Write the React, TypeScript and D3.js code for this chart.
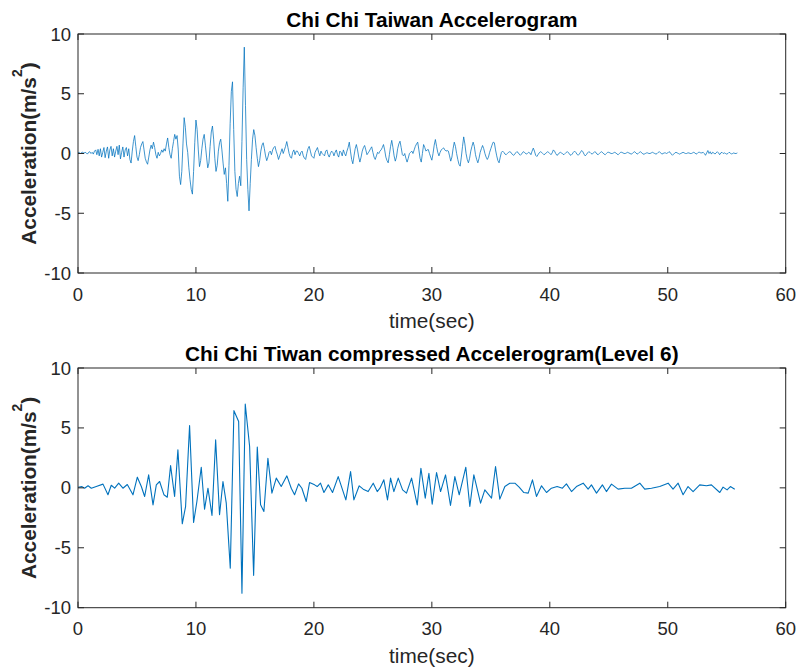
import React from "react";
import * as d3 from "d3";

// ---------- DATA ----------
const xTicks = [0, 10, 20, 30, 40, 50, 60];
const yTicks = [-10, -5, 0, 5, 10];
const titles = ["Chi Chi Taiwan Accelerogram", "Chi Chi Tiwan compressed Accelerogram(Level 6)"];
const xLabel = "time(sec)";

// Original accelerogram, sampled every 0.1 s (one row per second)
const originalDt = 0.1;
const originalAccel = [
  0.05, 0.1, 0.0, 0.08, 0.12, 0.02, 0.1, 0.05, -0.05, 0.1,
  0.15, 0.0, 0.1, -0.05, 0.2, 0.3, -0.1, 0.35, -0.2, 0.4,
  -0.3, 0.1, 0.5, -0.35, 0.2, 0.55, -0.4, 0.3, 0.6, -0.2,
  0.4, -0.3, 0.2, 0.6, -0.1, 0.7, -0.45, 0.1, 0.55, -0.3,
  0.3, 0.5, -0.2, 0.4, -0.5, -0.8, 0.2, 1.0, 1.5, 0.6,
  -0.3, -0.6, -0.1, 0.5, 0.8, 1.0, 0.3, -0.4, -0.7, -0.9,
  -0.3, 0.3, 0.7, 0.4, 0.95, 0.5, -0.1, -0.4, 0.1, -0.2,
  0.0, 0.3, 0.1, 0.4, 0.2, 0.8, 1.3, 0.5, -0.1, -0.4,
  0.4, 1.0, 1.6, 1.2, 1.5, 0.3, -1.9, -2.6, -1.5, 0.8,
  3.0, 2.2, 0.8, 0.1, -1.2, -2.2, -3.0, -3.4, -1.5, 0.9,
  2.8, 2.0, 0.3, -1.1, -0.6, 0.4, 1.2, 1.6, 0.7, -0.3,
  -1.2, -0.8, 0.6, 1.8, 2.3, 1.2, -0.4, -1.5, -1.0, 0.2,
  0.9, 1.2, 0.3, -0.8, -1.75, -1.2, -2.5, -4.0, -1.0, 2.5,
  5.2, 6.0, 2.0, -1.5, -3.0, -3.6, -2.5, -1.9, -2.7, 1.0,
  5.5, 8.9, 4.0, -0.5, -3.0, -4.8, -2.5, -0.5, 1.2, 2.0,
  1.5, 0.5, -0.4, -1.1, -0.6, 0.2, 0.7, 0.9, 0.4, -0.2,
  -0.6, -0.3, 0.1, 0.2, -0.1, 0.3, 0.5, 0.6, 0.2, -0.1,
  -0.5, -0.2, 0.1, 0.4, 0.0, 0.3, 0.6, 1.0, 0.5, 0.0,
  -0.3, -0.4, 0.1, 0.3, -0.1, 0.2, 0.2, 0.0, -0.2, 0.1,
  0.2, -0.2, -0.4, -0.5, 0.0, 0.4, 0.6, 0.2, -0.2, -0.3,
  -0.4, 0.1, 0.3, 0.5, 0.1, -0.2, 0.2, 0.0, -0.1, -0.2,
  0.2, 0.3, -0.1, -0.3, 0.0, 0.2, 0.1, -0.2, 0.1, 0.3,
  -0.1, -0.3, 0.2, 0.1, -0.2, 0.3, 0.0, -0.2, 0.2, 0.5,
  0.95, 0.2, -0.5, -0.86, -0.2, 0.4, 0.75, 0.3, -0.3, -0.72,
  -0.3, 0.2, 0.5, 0.67, 0.3, -0.1, 0.05, 0.2, 0.4, 0.56,
  0.1, -0.3, -0.5, -0.2, 0.1, 0.0, 0.2, 0.3, 0.5, 0.75,
  0.3, -0.3, -0.6, -0.78, -0.1, 0.6, 1.1, 0.5, -0.2, -0.64,
  -0.3, 0.4, 0.8, 1.03, 0.5, -0.1, -0.2, 0.0, -0.4, -0.72,
  -0.4, 0.0, 0.1, 0.2, 0.0, 0.3, 0.6, 0.8, 0.95, 0.3,
  -0.4, -0.72, 0.0, 0.75, 0.5, 0.2, 0.3, 0.33, 0.0, -0.3,
  -0.56, 0.0, 0.7, 1.17, 0.6, 0.1, -0.2, 0.1, 0.3, 0.4,
  0.47, 0.3, 0.2, 0.25, 0.2, -0.2, -0.64, -0.3, 0.4, 0.95,
  0.6, 0.0, -0.5, -0.9, -1.06, -0.3, 0.6, 1.39, 0.8, 0.0,
  -0.5, -0.78, -0.4, 0.2, 0.6, 0.95, 0.6, -0.1, -0.5, -0.78,
  -0.4, 0.1, 0.4, 0.67, 0.4, 0.0, -0.3, -0.5, -0.3, 0.1,
  0.4, 0.7, 0.95, 0.9, 0.3, -0.2, -0.6, -0.78, -0.3, 0.1,
  0.2, 0.1, -0.05, -0.1, 0.0, 0.1, 0.15, 0.1, -0.05, -0.15,
  -0.1, 0.05, 0.15, 0.1, -0.05, -0.15, -0.05, 0.1, 0.15, 0.05,
  -0.05, 0.0, 0.1, 0.05, -0.1, 0.2, 0.45, 0.2, -0.15, -0.25,
  -0.1, 0.05, 0.15, 0.1, 0.0, -0.1, -0.05, 0.05, 0.15, 0.1,
  0.0, -0.1, 0.05, 0.3, 0.2, 0.0, -0.15, -0.1, 0.05, 0.1,
  0.05, -0.05, -0.1, 0.0, 0.1, 0.15, 0.05, -0.1, -0.15, -0.05,
  0.1, 0.2, 0.1, -0.05, -0.15, -0.05, 0.1, 0.25, 0.15, -0.05,
  -0.2, -0.1, 0.05, 0.15, 0.1, 0.0, -0.05, 0.05, 0.15, 0.1,
  -0.05, -0.1, 0.0, 0.1, 0.15, 0.05, -0.05, -0.1, 0.0, 0.1,
  0.1, 0.05, 0.0, 0.0, 0.05, 0.1, 0.05, -0.05, -0.1, 0.0,
  0.1, 0.1, 0.05, 0.0, 0.0, 0.05, 0.1, 0.05, 0.0, -0.05,
  0.0, 0.1, 0.15, 0.05, -0.05, 0.0, 0.1, 0.15, 0.05, -0.05,
  -0.05, 0.0, 0.05, 0.05, 0.0, 0.0, 0.05, 0.1, 0.05, 0.0,
  -0.05, 0.0, 0.1, 0.15, 0.05, -0.05, 0.0, 0.05, 0.05, 0.0,
  0.05, 0.15, 0.1, -0.05, -0.15, -0.05, 0.05, 0.1, 0.05, 0.0,
  -0.05, 0.0, 0.05, 0.1, 0.05, 0.0, 0.0, 0.05, 0.05, 0.0,
  0.0, 0.05, 0.1, 0.05, -0.05, 0.0, 0.1, 0.1, 0.05, 0.05,
  0.1, 0.0, -0.15, 0.05, 0.25, 0.0, 0.15, -0.05, 0.1, 0.05,
  -0.05, 0.05, 0.15, 0.05, -0.1, 0.05, 0.1, 0.0, 0.05, 0.0,
  -0.05, 0.0, 0.1, 0.05, -0.05, 0.0, 0.05, 0.0, 0.0, 0.05,
];

// Compressed (level 6) reconstruction: sample times and accelerations
const compressedTime = [
  0, 0.34, 0.56, 0.85, 1.13, 1.55, 2.12, 2.54, 2.82, 3.11,
  3.45, 3.81, 4.18, 4.66, 5.03, 5.37, 5.65, 5.99, 6.36, 6.64,
  6.92, 7.29, 7.57, 7.85, 8.19, 8.47, 8.84, 9.12, 9.46, 9.8,
  10.08, 10.45, 10.73, 11.02, 11.36, 11.67, 12.0, 12.29, 12.57, 12.91,
  13.22, 13.62, 13.9, 14.18, 14.55, 14.89, 15.2, 15.48, 15.76, 16.1,
  16.44, 16.81, 17.23, 17.71, 18.08, 18.36, 18.7, 18.98, 19.35, 19.63,
  20.06, 20.28, 20.56, 20.85, 21.22, 21.58, 22.06, 22.71, 23.11, 23.39,
  23.84, 24.18, 24.6, 25.03, 25.37, 25.6, 25.93, 26.24, 26.5, 26.78,
  27.15, 27.52, 27.85, 28.28, 28.76, 29.07, 29.44, 29.75, 30.03, 30.4,
  30.74, 31.16, 31.58, 31.95, 32.32, 32.88, 33.22, 33.56, 34.13, 34.49,
  35.06, 35.4, 35.76, 36.19, 36.61, 37.04, 37.4, 37.8, 38.17, 38.53,
  38.87, 39.3, 39.72, 40.14, 40.62, 41.07, 41.41, 41.84, 42.26, 42.83,
  43.25, 43.53, 43.96, 44.46, 44.8, 45.23, 45.79, 46.36, 46.92, 47.63,
  48.05, 48.62, 49.32, 50.03, 50.45, 50.88, 51.3, 51.72, 52.15, 52.71,
  53.28, 53.7, 54.41, 54.69, 55.03, 55.31, 55.68,
];
const compressedAccel = [
  0.05, 0.1, -0.03, 0.17, -0.03, 0.11, 0.31, -0.58, 0.22, -0.03,
  0.39, -0.03, 0.28, -0.58, 0.89, 0.11, -0.72, 1.08, -1.42, 0.25,
  0.53, -0.58, -0.78, 1.86, -0.72, 3.17, -3.0, -1.56, 5.2, -2.89,
  -1.14, 1.72, -1.78, -0.03, -2.31, 4.0, -2.25, 0.53, -1.28, -6.7,
  6.44, 5.53, -8.8, 7.0, 3.45, -7.3, 3.4, -1.42, -1.97, 2.47,
  -0.44, 0.81, 0.11, 1.0, -0.03, -0.58, 0.33, -0.03, -1.14, 0.44,
  0.25, 0.11, 0.39, -0.39, 0.25, -0.39, 0.94, -1.0, 1.36, -1.0,
  0.17, -0.11, -0.31, 0.39, -0.31, -0.03, 0.67, -1.0, 0.81, -0.31,
  0.81, -0.17, -0.44, 0.81, -1.42, 1.64, -0.86, 1.22, -1.36, 1.28,
  -0.31, 1.08, -1.47, 0.94, -0.58, 1.72, -1.56, 1.08, -1.28, -0.17,
  -0.86, 1.78, -0.94, 0.11, 0.39, 0.39, 0.06, -0.39, -0.44, 0.67,
  -0.72, 0.17, -0.39, -0.03, 0.11, -0.03, 0.33, -0.31, 0.11, 0.39,
  -0.11, 0.25, -0.44, 0.25, -0.31, 0.31, -0.11, -0.03, -0.03, 0.39,
  -0.11, -0.03, 0.11, 0.39, -0.11, 0.39, -0.58, 0.11, -0.31, 0.25,
  0.17, 0.25, -0.39, 0.06, -0.17, 0.11, -0.11,
];

// ---------- LAYOUT ----------
const W = 800;
const H = 669;
const LEFT = 78;
const RIGHT = 785.7;
const panels = [
  { top: 34, bottom: 273, lw: 0.75 },
  { top: 368, bottom: 607.7, lw: 1.1 },
];
const AXIS = "#262626";
const LINE = "#0072BD";
const FONT = "'Liberation Sans', Arial, Helvetica, sans-serif";
const TICK = 6;

type Pt = [number, number];

function Panel({ idx, data }: { idx: number; data: Pt[] }) {
  const p = panels[idx];
  const x = d3.scaleLinear().domain([0, 60]).range([LEFT, RIGHT]);
  const y = d3.scaleLinear().domain([-10, 10]).range([p.bottom, p.top]);
  const line = d3
    .line<Pt>()
    .x((d) => x(d[0]))
    .y((d) => y(d[1]));
  const midY = (p.top + p.bottom) / 2;
  const midX = (LEFT + RIGHT) / 2;
  return (
    <g>
      <path d={line(data) || ""} fill="none" stroke={LINE} strokeWidth={p.lw} strokeLinejoin="round" />
      <rect x={LEFT} y={p.top} width={RIGHT - LEFT} height={p.bottom - p.top} fill="none" stroke={AXIS} strokeWidth={1} />
      {xTicks.map((t) => (
        <g key={"xt" + t}>
          <line x1={x(t)} x2={x(t)} y1={p.bottom} y2={p.bottom - TICK} stroke={AXIS} />
          <line x1={x(t)} x2={x(t)} y1={p.top} y2={p.top + TICK} stroke={AXIS} />
          <text x={x(t)} y={p.bottom + 27.5} textAnchor="middle" fontSize={18.5} fill={AXIS} fontFamily={FONT}>
            {t}
          </text>
        </g>
      ))}
      {yTicks.map((v) => (
        <g key={"yt" + v}>
          <line x1={LEFT} x2={LEFT + TICK} y1={y(v)} y2={y(v)} stroke={AXIS} />
          <line x1={RIGHT} x2={RIGHT - TICK} y1={y(v)} y2={y(v)} stroke={AXIS} />
          <text x={71} y={y(v) + 6.5} textAnchor="end" fontSize={18.5} fill={AXIS} fontFamily={FONT}>
            {v}
          </text>
        </g>
      ))}
      <text x={midX} y={p.top - 7.3} textAnchor="middle" fontSize={20.8} fontWeight="bold" fill="#000" fontFamily={FONT}>
        {titles[idx]}
      </text>
      <text x={midX} y={p.bottom + 55} textAnchor="middle" fontSize={20.8} fill={AXIS} fontFamily={FONT}>
        {xLabel}
      </text>
      <text
        transform={`translate(36,${midY}) rotate(-90)`}
        textAnchor="middle"
        fontSize={20.8}
        fontWeight="bold"
        fill={AXIS}
        fontFamily={FONT}
      >
        Acceleration(m/s
        <tspan dy={-14} fontSize={14}>2</tspan>
        <tspan dy={14}>)</tspan>
      </text>
    </g>
  );
}

export default function App() {
  const original: Pt[] = originalAccel.map((v, i) => [i * originalDt, v]);
  const compressed: Pt[] = compressedTime.map((t, i) => [t, compressedAccel[i]]);
  return (
    <svg
      width={W}
      height={H}
      viewBox={`0 0 ${W} ${H}`}
      style={{ position: "absolute", left: 0, top: 0, background: "#fff" }}
    >
      <rect width={W} height={H} fill="#fff" />
      <Panel idx={0} data={original} />
      <Panel idx={1} data={compressed} />
    </svg>
  );
}
